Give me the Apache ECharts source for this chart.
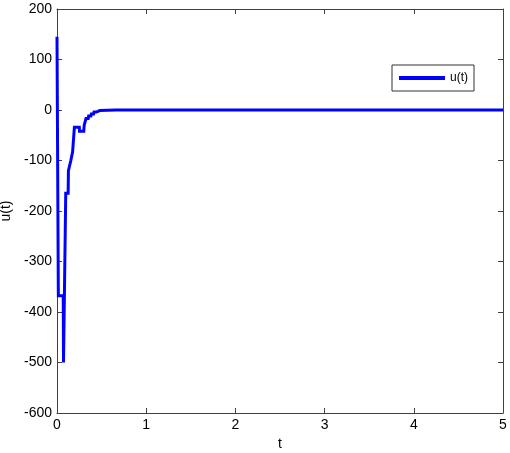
<!DOCTYPE html>
<html>
<head>
  <meta charset="utf-8">
  <title>u(t)</title>
  <script src="https://cdn.jsdelivr.net/npm/echarts@6/dist/echarts.min.js"></script>
  <style>
    html, body { margin: 0; padding: 0; background: #fff; }
  </style>
</head>
<body>
<div id="main" style="width: 510px;height:453px;"></div>
<script type="text/javascript">
  // values
  var tValues = [0, 0.015, 0.07, 0.073, 0.095, 0.098, 0.125, 0.128, 0.15, 0.155, 0.17, 0.175, 0.19,
    0.195, 0.25, 0.252, 0.3, 0.305, 0.32, 0.325, 0.35, 0.355, 0.38, 0.385, 0.41, 0.415, 0.44,
    0.445, 0.48, 0.49, 0.66, 0.68, 0.72, 0.74, 0.78, 0.8, 0.84, 0.86, 1.0, 5.0];
  var uValues = [145, -368, -368, -500, -500, -165, -165, -120, -120, -100, -100, -83, -83,
    -34, -34, -42, -42, -30, -30, -17, -17, -12, -12, -8, -8, -4, -4,
    -1, -1, 0, 0, 2, 0, 2, 0, 2, 0, 0, 0, 0];
  var xTicks = [0, 5, 1];
  var yTicks = [-600, 200, 100];

  var points = tValues.map(function (t, i) { return [t, uValues[i]]; });

  var chartDom = document.getElementById('main');
  var myChart = echarts.init(chartDom);
  var font = 'Liberation Sans, Arial, sans-serif';
  var axisColor = '#404040';

  var option = {
    animation: false,
    backgroundColor: '#fff',
    grid: { left: 57, right: 7, top: 9, bottom: 40, containLabel: false, outerBoundsMode: 'none' },
    legend: {
      data: ['u(t)'],
      left: 392,
      top: 65,
      orient: 'horizontal',
      icon: 'rect',
      itemWidth: 46,
      itemHeight: 4,
      itemGap: 4,
      padding: [7, 6, 7, 7],
      borderColor: '#333',
      borderWidth: 1,
      backgroundColor: '#fff',
      textStyle: { fontFamily: font, fontSize: 12, color: '#000' }
    },
    xAxis: [{
      type: 'value',
      min: xTicks[0], max: xTicks[1], interval: xTicks[2],
      name: 't', nameLocation: 'middle', nameGap: 24,
      nameTextStyle: { fontFamily: font, fontSize: 14, color: '#000' },
      axisLine: { onZero: false, lineStyle: { color: axisColor, width: 1 } },
      axisTick: { inside: true, length: 5, lineStyle: { color: axisColor } },
      axisLabel: { fontFamily: font, fontSize: 14, color: '#000', margin: 5 },
      splitLine: { show: false }
    }, {
      type: 'value', position: 'top',
      min: xTicks[0], max: xTicks[1], interval: xTicks[2],
      axisLine: { onZero: false, lineStyle: { color: axisColor, width: 1 } },
      axisTick: { inside: true, length: 5, lineStyle: { color: axisColor } },
      axisLabel: { show: false },
      splitLine: { show: false }
    }],
    yAxis: [{
      type: 'value',
      min: yTicks[0], max: yTicks[1], interval: yTicks[2],
      name: 'u(t)', nameLocation: 'middle', nameGap: 38, nameRotate: 90,
      nameTextStyle: { fontFamily: font, fontSize: 14, color: '#000' },
      axisLine: { show: true, onZero: false, lineStyle: { color: axisColor, width: 1 } },
      axisTick: { show: true, inside: true, length: 5, lineStyle: { color: axisColor } },
      axisLabel: { fontFamily: font, fontSize: 14, color: '#000', margin: 5 },
      splitLine: { show: false }
    }, {
      type: 'value', position: 'right',
      min: yTicks[0], max: yTicks[1], interval: yTicks[2],
      axisLine: { show: true, onZero: false, lineStyle: { color: axisColor, width: 1 } },
      axisTick: { show: true, inside: true, length: 5, lineStyle: { color: axisColor } },
      axisLabel: { show: false },
      splitLine: { show: false }
    }],
    series: [{
      name: 'u(t)',
      type: 'line',
      data: points,
      showSymbol: false,
      symbol: 'none',
      color: '#0000ff',
      lineStyle: { color: '#0000ff', width: 3, join: 'miter' }
    }]
  };

  myChart.setOption(option);
</script>
</body>
</html>
